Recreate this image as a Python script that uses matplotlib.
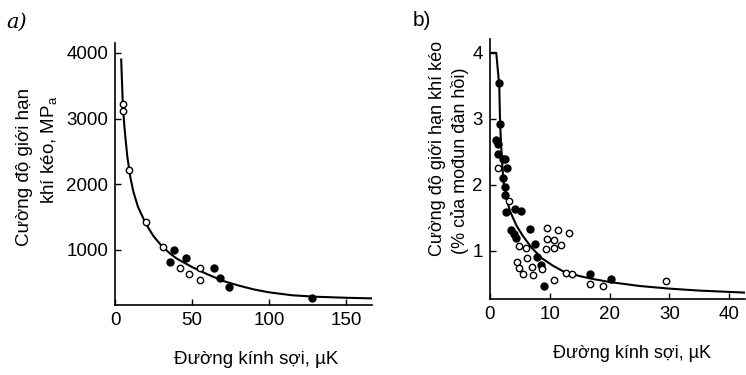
import matplotlib
matplotlib.use("Agg")
import matplotlib.pyplot as plt

plt.rcParams["font.family"] = ["Liberation Sans", "DejaVu Sans"]
plt.rcParams["mathtext.fontset"] = "custom"
plt.rcParams["mathtext.rm"] = "Liberation Sans"

# panel a: tensile strength (MPa) vs fibre diameter
a_open_x = [5, 5, 9, 20, 31, 42, 48, 55, 55]
a_open_y = [3230, 3120, 2220, 1420, 1040, 720, 630, 720, 550]
a_fill_x = [38, 36, 46, 64, 68, 74, 128]
a_fill_y = [1000, 820, 870, 730, 580, 435, 275]
a_curve_x = [4, 5, 6, 7, 8, 10, 12, 15, 20, 25, 30, 35, 40, 50, 60, 70, 80, 90, 100, 115, 130, 150, 168]
a_curve_y = [3900, 3250, 2900, 2650, 2420, 2100, 1880, 1650, 1400, 1210, 1070, 960, 870, 740, 630, 530,
             460, 400, 355, 310, 288, 272, 262]

# panel b: strength (% of elastic modulus) vs fibre diameter
b_fill_x = [1.5, 1.7, 1.1, 1.4, 1.4, 2.3, 2.6, 2.9, 2.2, 2.5, 2.5, 2.7, 4.3, 5.3, 3.5, 4.05, 4.4,
            6.8, 7.6, 7.9, 8.6, 9.0, 16.8, 20.2]
b_fill_y = [3.55, 2.92, 2.68, 2.62, 2.47, 2.39, 2.39, 2.25, 2.1, 1.97, 1.85, 1.59, 1.63, 1.6, 1.32,
            1.25, 1.2, 1.34, 1.1, 0.91, 0.79, 0.47, 0.65, 0.57]
b_open_x = [1.4, 3.3, 4.9, 6.0, 4.55, 4.9, 5.55, 6.3, 7.1, 7.2, 8.8, 9.55, 9.55, 9.4, 10.8, 10.8,
            11.4, 11.9, 13.2, 10.8, 12.7, 13.7, 16.7, 18.9, 29.4]
b_open_y = [2.25, 1.75, 1.08, 1.04, 0.84, 0.74, 0.65, 0.9, 0.75, 0.63, 0.72, 1.35, 1.18, 1.03, 1.04,
            1.16, 1.32, 1.09, 1.27, 0.56, 0.66, 0.65, 0.5, 0.47, 0.55]
b_curve_x = [0.3, 1.1, 1.3, 1.6, 1.75, 2.0, 2.3, 2.8, 3.4, 4.5, 5.6, 7.0, 8.7, 10.5, 12.3, 15, 17,
             20, 25, 30, 35, 40, 42.5]
b_curve_y = [4.0, 4.0, 3.8, 3.5, 2.9, 2.45, 2.05, 1.8, 1.6, 1.38, 1.22, 1.05, 0.89, 0.78, 0.69,
             0.62, 0.58, 0.53, 0.47, 0.43, 0.40, 0.38, 0.37]

xlabel = "Đường kính sợi, µK"

fig = plt.figure(figsize=(7.46, 3.75), dpi=100)
ax_a = fig.add_axes([0.1542, 0.1867, 0.3445, 0.6987])
ax_b = fig.add_axes([0.6564, 0.2027, 0.3422, 0.6933])


def style(ax):
    for side in ["top", "right"]:
        ax.spines[side].set_visible(False)
    for side in ["left", "bottom"]:
        ax.spines[side].set_linewidth(1.2)
    ax.tick_params(direction="in", length=4.5, width=1.0, labelsize=13.5, pad=5)


# panel a
ax_a.plot(a_curve_x, a_curve_y, color="black", lw=1.5, zorder=2)
ax_a.plot(a_fill_x, a_fill_y, "o", color="black", ms=5, zorder=3)
ax_a.plot(a_open_x, a_open_y, "o", mfc="white", mec="black", mew=1.0, ms=4.6, zorder=3)
ax_a.set_xlim(0, 167)
ax_a.set_ylim(162, 4152)
ax_a.set_xticks([0, 50, 100, 150])
ax_a.set_yticks([1000, 2000, 3000, 4000])
style(ax_a)

# panel b
ax_b.plot(b_curve_x, b_curve_y, color="black", lw=1.5, zorder=2)
ax_b.plot(b_fill_x, b_fill_y, "o", color="black", ms=5, zorder=3)
ax_b.plot(b_open_x, b_open_y, "o", mfc="white", mec="black", mew=1.0, ms=4.6, zorder=3)
ax_b.set_xlim(0, 42.6)
ax_b.set_ylim(0.273, 4.21)
ax_b.set_xticks([0, 10, 20, 30, 40])
ax_b.set_yticks([1, 2, 3, 4])
style(ax_b)

# labels
fig.text(25 / 746, 1 - 167 / 375, "Cường độ giới hạn", rotation=90, ha="center", va="center", fontsize=13.5)
fig.text(50 / 746, 1 - 150 / 375, "khí kéo, MP$_{\\rm a}$", rotation=90, ha="center", va="center", fontsize=13.5)
fig.text(256 / 746, 1 - 360 / 375, xlabel, ha="center", va="center", fontsize=13.5)

fig.text(438 / 746, 1 - 148 / 375, "Cường độ giới hạn khí kéo", rotation=90, ha="center", va="center", fontsize=13)
fig.text(460 / 746, 1 - 161 / 375, "(% của mođun đàn hồi)", rotation=90, ha="center", va="center", fontsize=13)
fig.text(632 / 746, 1 - 353 / 375, xlabel, ha="center", va="center", fontsize=13)

fig.text(17 / 746, 1 - 22 / 375, "a)", ha="center", va="center", fontsize=15, style="italic",
         family=["DejaVu Serif"])
fig.text(422 / 746, 1 - 20 / 375, "b)", ha="center", va="center", fontsize=15)

fig.savefig("out.png", dpi=100)
